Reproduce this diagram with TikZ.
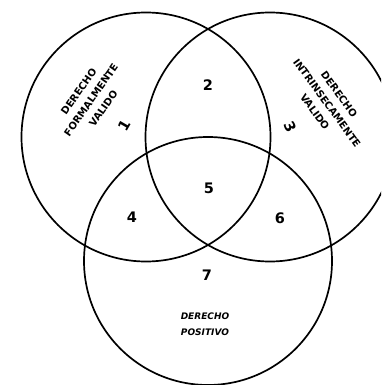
\documentclass[tikz,border=0pt]{standalone}
\usepackage{fontspec}
\newfontfamily\djv{DejaVu Sans}
\begin{document}
\begin{tikzpicture}[x=1pt,y=-1pt,
  ring/.style={line width=1.7pt},
  num/.style={font=\djv\bfseries\fontsize{14.5}{15}\selectfont, inner sep=0pt},
  lbl/.style={font=\djv\bfseries\fontsize{10}{15}\selectfont, align=center, inner sep=0pt},
  plbl/.style={font=\djv\bfseries\itshape\fontsize{9}{16}\selectfont, align=center, inner sep=0pt}]
\useasboundingbox (0,0) rectangle (381,385);
\clip (0,0) rectangle (381,385);
\fill[white] (0,0) rectangle (381,385);
\coordinate (cL) at (146,137);
\coordinate (cR) at (270,137);
\coordinate (cB) at (208,261);
\draw[ring] (cL) circle (124.5);
\draw[ring] (cR) circle (124.5);
\draw[ring] (cB) circle (124);
\node[lbl, rotate=55] (tL) at (91,100) {DERECHO\\FORMALMENTE\\VALIDO};
\node[lbl, rotate=-54] (tR) at (327,103) {DERECHO\\INTRINSECAMENTE\\VALIDO};
\node[plbl] (tB) at (205,324) {DERECHO\\POSITIVO};
\node[num, rotate=60] (n1) at (124,125) {1};
\node[num] (n2) at (208,85) {2};
\node[num, rotate=-65] (n3) at (290,127) {3};
\node[num] (n4) at (132,217) {4};
\node[num] (n5) at (209,188) {5};
\node[num] (n6) at (280,218) {6};
\node[num] (n7) at (207,275) {7};
\end{tikzpicture}
\end{document}
